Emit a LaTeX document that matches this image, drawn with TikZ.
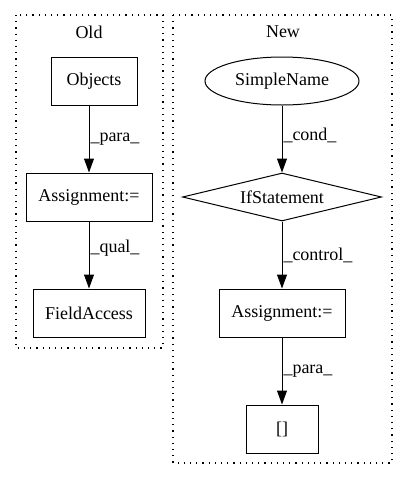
\documentclass[tikz,border=0pt]{standalone}
\usepackage{fontspec}
\setmainfont{Liberation Serif}
\usepackage{tikz}
\usetikzlibrary{shapes.geometric,arrows.meta,positioning}
\tikzstyle{block} = [rectangle, draw, line width=1pt, text centered, minimum height=48pt, font=\fontsize{18}{22}\selectfont]
\tikzstyle{oval} = [ellipse, draw, line width=1pt, minimum width=154pt, minimum height=48pt, inner sep=0pt, font=\fontsize{18}{22}\selectfont]
\tikzstyle{decision} = [diamond, draw, line width=1pt, aspect=4.15, minimum width=199pt, minimum height=48pt, inner sep=0pt, font=\fontsize{18}{22}\selectfont]
\tikzstyle{line} = [draw, line width=1pt, -{Triangle[length=14pt,width=10pt]}]
\tikzstyle{lbl} = [right, inner sep=1pt, font=\fontsize{18}{22}\selectfont]
\tikzstyle{cluster} = [draw, line width=1.2pt, dash pattern=on 1.2pt off 5pt]
\tikzstyle{title} = [font=\fontsize{18}{22}\selectfont]

\begin{document}
\begin{tikzpicture}[node distance = 116pt, auto]
\useasboundingbox (0pt,0pt) rectangle (408pt,-480pt);
% clusters
\draw [cluster] (16pt,-15pt) rectangle (163pt,-348pt);
\draw [cluster] (173pt,-15pt) rectangle (392pt,-463pt);
\node [title] (oldtitle) at (89pt,-32pt) {Old};
\node [title] (newtitle) at (283pt,-32pt) {New};
% Old
\node [block, minimum width=86pt] (objects) at (94pt,-81pt) {Objects};
\node [block, minimum width=126pt] (oldassign) at (89pt,-197pt) {Assignment:=};
\node [block, minimum width=112pt, below of=oldassign] (fieldaccess) {FieldAccess};
% New
\node [oval] (simplename) at (282pt,-81pt) {SimpleName};
\node [decision, below of=simplename] (ifstmt) {IfStatement};
\node [block, minimum width=126pt, below of=ifstmt] (newassign) {Assignment:=};
\node [block, minimum width=72pt, below of=newassign] (arrayacc) {[]};
% Draw the edges
\path [line] (objects.south -| oldassign) -- node [lbl] {\_para\_} (oldassign);
\path [line] (oldassign) -- node [lbl, pos=0.4] {\_qual\_} (fieldaccess);
\path [line] (simplename) -- node [lbl, pos=0.45] {\_cond\_} (ifstmt);
\path [line] (ifstmt) -- node [lbl] {\_control\_} (newassign);
\path [line] (newassign) -- node [lbl] {\_para\_} (arrayacc);
\end{tikzpicture}
\end{document}
